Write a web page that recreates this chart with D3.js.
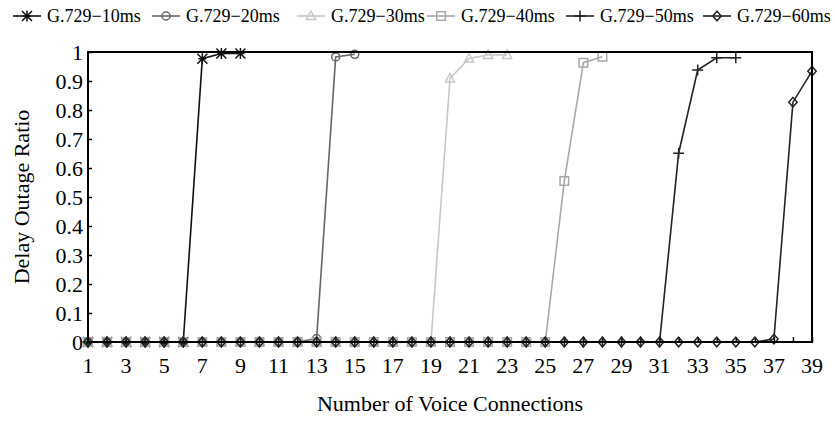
<!DOCTYPE html>
<html>
<head>
<meta charset="utf-8">
<script src="https://cdn.jsdelivr.net/npm/d3@7/dist/d3.min.js"></script>
<style>
  html, body { margin: 0; padding: 0; background: #fff; }
  svg { display: block; font-family: "Liberation Serif", "Times New Roman", serif; }
</style>
</head>
<body>
<svg id="chart" width="835" height="421"></svg>
<script>
// Number of voice connections (x) and delay outage ratio per G.729 packetisation interval
const connections = d3.range(1, 40);
const seriesNames = ["G.729\u221210ms", "G.729\u221220ms", "G.729\u221230ms", "G.729\u221240ms", "G.729\u221250ms", "G.729\u221260ms"];

const outage10 = [0, 0, 0, 0, 0, 0, 0.977, 0.995, 0.995];
const outage20 = [0, 0, 0, 0, 0, 0, 0, 0, 0, 0, 0, 0, 0.012, 0.983, 0.992];
const outage30 = [0, 0, 0, 0, 0, 0, 0, 0, 0, 0, 0, 0, 0, 0, 0, 0, 0, 0, 0, 0.909, 0.978, 0.99, 0.99];
const outage40 = [0, 0, 0, 0, 0, 0, 0, 0, 0, 0, 0, 0, 0, 0, 0, 0, 0, 0, 0, 0, 0, 0, 0, 0, 0, 0.555, 0.963, 0.984];
const outage50 = [0, 0, 0, 0, 0, 0, 0, 0, 0, 0, 0, 0, 0, 0, 0, 0, 0, 0, 0, 0, 0, 0, 0, 0, 0, 0, 0, 0, 0, 0, 0, 0.651, 0.938, 0.98, 0.98];
const outage60 = [0, 0, 0, 0, 0, 0, 0, 0, 0, 0, 0, 0, 0, 0, 0, 0, 0, 0, 0, 0, 0, 0, 0, 0, 0, 0, 0, 0, 0, 0, 0, 0, 0, 0, 0, 0, 0.01, 0.827, 0.934];

const xTickLabels = d3.range(1, 40, 2);
const yTickValues = [0, 0.1, 0.2, 0.3, 0.4, 0.5, 0.6, 0.7, 0.8, 0.9, 1];
const yTickLabels = ["0", "0.1", "0.2", "0.3", "0.4", "0.5", "0.6", "0.7", "0.8", "0.9", "1"];

const seriesValues = [outage10, outage20, outage30, outage40, outage50, outage60];
const seriesColors = ["#111", "#666", "#c8c8c8", "#a8a8a8", "#222", "#222"];
const seriesMarkers = ["star", "circle", "triangle", "square", "plus", "diamond"];

const svg = d3.select("#chart");
const margin = { left: 88, right: 23, top: 52, bottom: 79 };
const W = 835, H = 421;

const x = d3.scaleLinear().domain([1, 39]).range([margin.left, W - margin.right]);
const y = d3.scaleLinear().domain([0, 1]).range([H - margin.bottom, margin.top]);

// Marker shapes, drawn around (0,0)
function markerPath(kind) {
  switch (kind) {
    case "star": return "M-5,-5L5,5M-5,5L5,-5M0,-5.5L0,5.5M-4,0L4,0";
    case "circle": return "M4,0A4,4 0 1,1 -4,0A4,4 0 1,1 4,0Z";
    case "triangle": return "M0,-5L4.6,3.5L-4.6,3.5Z";
    case "square": return "M-4.3,-4.3L4.3,-4.3L4.3,4.3L-4.3,4.3Z";
    case "plus": return "M-5.5,0L5.5,0M0,-5.5L0,5.5";
    case "diamond": return "M0,-4.8L4.2,0L0,4.8L-4.2,0Z";
  }
}

// Axis frame with inward ticks
const xAxis = d3.axisBottom(x).tickValues(connections).tickSize(-5).tickFormat(() => "");
const yAxis = d3.axisLeft(y).tickValues(yTickValues).tickSize(-4).tickFormat(() => "");
const gx = svg.append("g").attr("transform", `translate(0,${y(0)})`).call(xAxis);
const gy = svg.append("g").attr("transform", `translate(${x(1)},0)`).call(yAxis);
[gx, gy].forEach(g => {
  g.select(".domain").remove();
  g.selectAll(".tick line").attr("stroke", "#000").attr("stroke-width", 1.5);
});

// Tick labels
svg.append("g").selectAll("text").data(xTickLabels).join("text")
  .attr("x", d => x(d)).attr("y", 373)
  .attr("text-anchor", "middle").attr("font-size", 22).attr("fill", "#000")
  .text(d => d);
svg.append("g").selectAll("text").data(yTickValues).join("text")
  .attr("x", 83).attr("y", d => y(d)).attr("dy", "0.35em")
  .attr("text-anchor", "end").attr("font-size", 22).attr("fill", "#000")
  .text((d, i) => yTickLabels[i]);

// Axis titles
svg.append("text").attr("x", (x(1) + x(39)) / 2).attr("y", 411)
  .attr("text-anchor", "middle").attr("font-size", 22).attr("fill", "#000")
  .text("Number of Voice Connections");
svg.append("text").attr("transform", `translate(29,${(y(0) + y(1)) / 2}) rotate(-90)`)
  .attr("text-anchor", "middle").attr("font-size", 22).attr("fill", "#000")
  .text("Delay Outage Ratio");

// Series lines and markers
const line = d3.line().x(d => x(d.c)).y(d => y(d.v));
seriesValues.forEach((vals, i) => {
  const pts = vals.map((v, j) => ({ c: connections[j], v }));
  const g = svg.append("g");
  g.append("path").datum(pts).attr("d", line)
    .attr("fill", "none").attr("stroke", seriesColors[i]).attr("stroke-width", 1.6);
  g.selectAll("path.m").data(pts).join("path").attr("class", "m")
    .attr("transform", d => `translate(${x(d.c)},${y(d.v)})`)
    .attr("d", markerPath(seriesMarkers[i]))
    .attr("fill", "none").attr("stroke", seriesColors[i]).attr("stroke-width", 1.5);
});

// Plot frame
svg.append("rect").attr("x", x(1)).attr("y", y(1))
  .attr("width", x(39) - x(1)).attr("height", y(0) - y(1))
  .attr("fill", "none").attr("stroke", "#000").attr("stroke-width", 2);

// Legend
const legendX = [13, 152, 297, 427, 566, 703];
const legend = svg.append("g");
seriesNames.forEach((name, i) => {
  const lx = legendX[i];
  legend.append("line").attr("x1", lx).attr("x2", lx + 28).attr("y1", 16).attr("y2", 16)
    .attr("stroke", seriesColors[i]).attr("stroke-width", 1.6);
  legend.append("path").attr("transform", `translate(${lx + 14},16)`)
    .attr("d", markerPath(seriesMarkers[i]))
    .attr("fill", "none").attr("stroke", seriesColors[i]).attr("stroke-width", 1.5);
  legend.append("text").attr("x", lx + 34).attr("y", 22)
    .attr("font-size", 18).attr("fill", "#000").text(name);
});
</script>
</body>
</html>
